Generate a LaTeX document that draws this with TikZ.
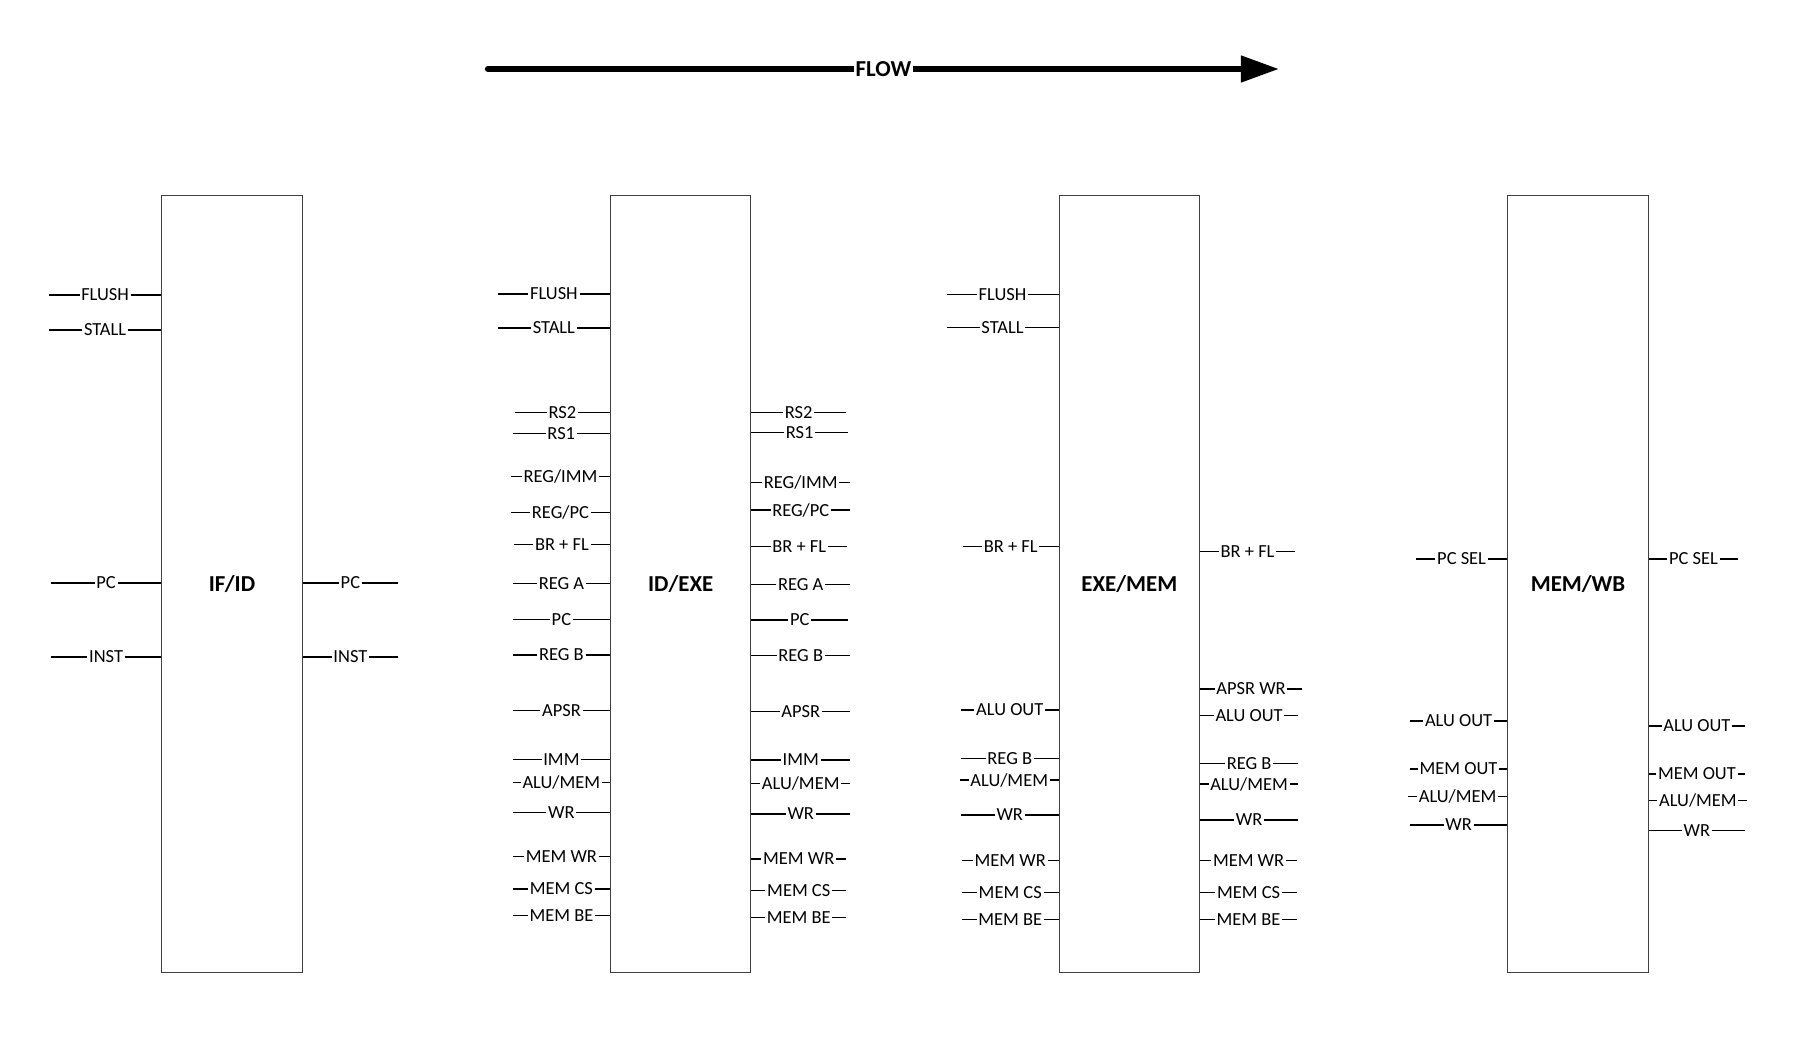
\documentclass[tikz,border=0pt]{standalone}
\usepackage{fontspec}
\setmainfont{Carlito}
\usepackage{tikz}
\usetikzlibrary{arrows.meta, positioning}

\begin{document}
\begin{tikzpicture}[
    x=0.02cm, y=-0.02cm,
    node distance=6.142cm,
    stage/.style={draw=black!75, line width=0.6pt, minimum width=2.812cm, minimum height=15.55cm, inner sep=0pt, font=\fontsize{13}{15}\selectfont\bfseries},
    sig/.style={line width=0.7pt},
    lbl/.style={fill=white, inner xsep=1pt, inner ysep=0.5pt, font=\fontsize{10.5}{12}\selectfont},
    flow/.style={line width=3.6pt, line cap=round, -{Triangle[length=21.7pt, width=14.5pt]}}
]
    \useasboundingbox (0,0) rectangle (1803,1064);

    % Stages
    \node[stage] (ifid) at (232,583.9) {IF/ID};
    \node[stage, right=of ifid] (idexe) {ID/EXE};
    \node[stage, right=of idexe] (exemem) {EXE/MEM};
    \node[stage, right=of exemem] (memwb) {MEM/WB};

    % Flow arrow
    \coordinate (fstart) at (488,69);
    \coordinate (fend) at (1279,69);
    \draw[flow] (fstart) -- (fend) node[pos=0.5, fill=white, inner xsep=1pt, inner ysep=0pt, font=\fontsize{13}{15}\selectfont\bfseries] {FLOW};

    % IF/ID signals
    \foreach \x/\y/\txt in {49/295/FLUSH, 49/330/STALL, 51/583/PC, 51/657/INST}
        \draw[sig] (\x,\y) -- (ifid.west |- \x,\y) node[midway, lbl] {\txt};
    \foreach \x/\y/\txt in {398/583/PC, 398/657/INST}
        \draw[sig] (ifid.east |- \x,\y) -- (\x,\y) node[midway, lbl] {\txt};

    % ID/EXE signals
    \foreach \x/\y/\txt in {498/294/FLUSH, 498/328/STALL, 515/412.7/RS2, 512.7/433.3/RS1,
            511/476.7/{REG/IMM}, 511/512.3/{REG/PC}, 514/544.3/BR + FL, 513/583.3/REG A,
            513/619.3/PC, 513/655/REG B, 513/710.7/APSR, 513/759.3/IMM, 512.7/782.7/{ALU/MEM},
            513/812.7/WR, 513/856.7/MEM WR, 513/889/MEM CS, 513/915.7/MEM BE}
        \draw[sig] (\x,\y) -- (idexe.west |- \x,\y) node[midway, lbl] {\txt};
    \foreach \x/\y/\txt in {846/412.3/RS2, 848/432.3/RS1, 850/482.3/{REG/IMM}, 850/510/{REG/PC},
            847/546.7/BR + FL, 850/584.3/REG A, 848/620/PC, 850/655.7/REG B, 850/711.7/APSR,
            850/760/IMM, 850/783.3/{ALU/MEM}, 850/814/WR, 846/859/MEM WR, 846/890.7/MEM CS,
            846/917.7/MEM BE}
        \draw[sig] (idexe.east |- \x,\y) -- (\x,\y) node[midway, lbl] {\txt};

    % EXE/MEM signals
    \foreach \x/\y/\txt in {946.5/294.4/FLUSH, 946.5/327.8/STALL, 963/546.7/BR + FL, 961/710/ALU OUT,
            961/758.3/REG B, 960/780/{ALU/MEM}, 961/815/WR, 962/860.7/MEM WR, 962/892.7/MEM CS,
            962/919.3/MEM BE}
        \draw[sig] (\x,\y) -- (exemem.west |- \x,\y) node[midway, lbl] {\txt};
    \foreach \x/\y/\txt in {1295/551.7/BR + FL, 1302/689/APSR WR, 1298/715.7/ALU OUT, 1298/763.3/REG B,
            1298/784/{ALU/MEM}, 1298/820/WR, 1297/860.7/MEM WR, 1297/892.7/MEM CS, 1297/919.3/MEM BE}
        \draw[sig] (exemem.east |- \x,\y) -- (\x,\y) node[midway, lbl] {\txt};

    % MEM/WB signals
    \foreach \x/\y/\txt in {1416/559/PC SEL, 1410/721/ALU OUT, 1410/769/MEM OUT, 1408/796.7/{ALU/MEM}, 1410/825/WR}
        \draw[sig] (\x,\y) -- (memwb.west |- \x,\y) node[midway, lbl] {\txt};
    \foreach \x/\y/\txt in {1738/559/PC SEL, 1745/726/ALU OUT, 1745/774/MEM OUT, 1747/800.7/{ALU/MEM}, 1745/830.7/WR}
        \draw[sig] (memwb.east |- \x,\y) -- (\x,\y) node[midway, lbl] {\txt};

\end{tikzpicture}
\end{document}
